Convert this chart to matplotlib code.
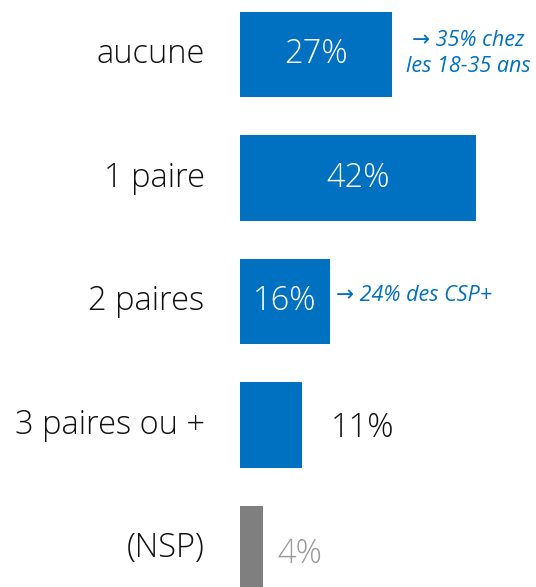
import matplotlib.pyplot as plt

# categories and shares (%)
categories = ["aucune", "1 paire", "2 paires", "3 paires ou +", "(NSP)"]
values = [27, 42, 16, 11, 4]
colors = ["#0070C0", "#0070C0", "#0070C0", "#0070C0", "#7F7F7F"]
notes = {0: "\u2192 35% chez\nles 18-35 ans", 2: "\u2192 24% des CSP+"}

plt.rcParams['font.family'] = ['Open Sans', 'DejaVu Sans']

fig = plt.figure(figsize=(5.36, 5.87), dpi=100)
ax = fig.add_axes([240 / 536, 0, 296 / 536, 1])

y = list(range(len(categories)))
ax.barh(y, values, height=0.69, color=colors)
ax.set_xlim(0, 296 / 5.63)
ax.set_ylim(4.312, -0.441)
ax.axis('off')

# category labels on the left
for i, cat in enumerate(categories):
    ax.text(-6.3, i, cat, ha='right', va='center', fontsize=23.5,
            fontweight='light', color='#111111')

# value labels: inside the wide bars, outside the narrow ones
for i, v in enumerate(values):
    if v >= 16:
        ax.text(v / 2, i, f"{v}%", ha='center', va='center', fontsize=23.5,
                fontweight='light', color='white')
    elif v >= 10:
        ax.text(v + 5.2, i + 0.03, f"{v}%", ha='left', va='center',
                fontsize=23.5, fontweight='light', color='#111111')
    else:
        ax.text(v + 2.7, i + 0.05, f"{v}%", ha='left', va='center',
                fontsize=23.5, fontweight='light', color='#9A9A9A')

# side notes
ax.text(40.5, -0.01, notes[0], ha='center', va='center', fontsize=15.5,
        style='italic', color='#0070C0', linespacing=1.3)
ax.text(17.0, -0.05 + 2, notes[2], ha='left', va='center', fontsize=15.5,
        style='italic', color='#0070C0')

fig.savefig("out.png", dpi=100)
